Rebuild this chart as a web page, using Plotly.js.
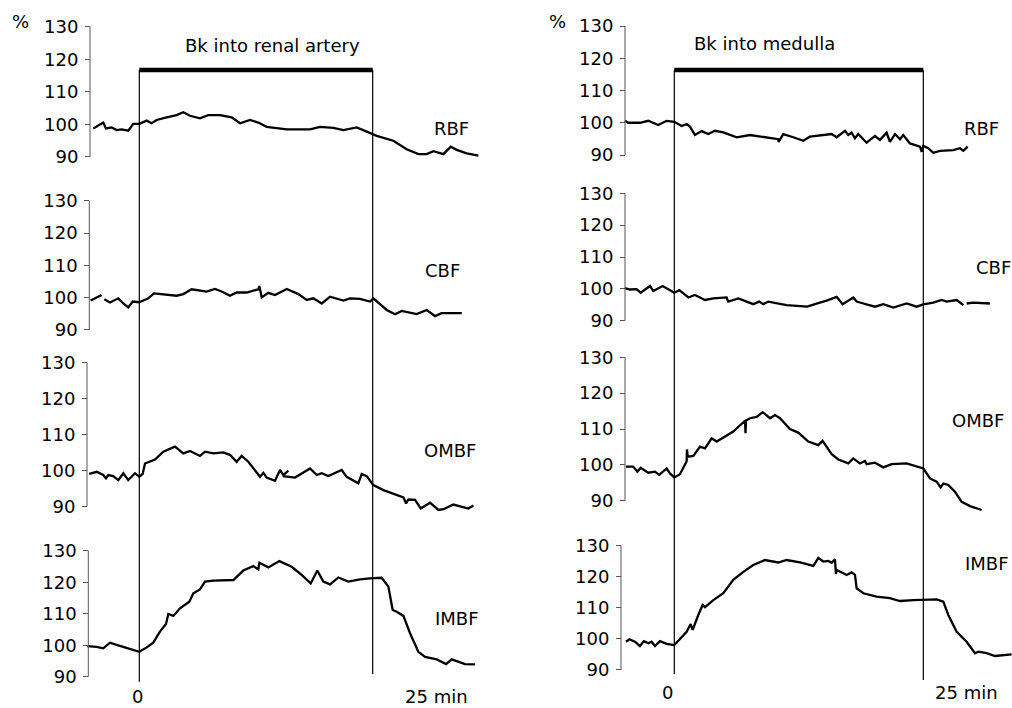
<!DOCTYPE html>
<html><head><meta charset="utf-8">
<script src="https://cdn.plot.ly/plotly-3.0.1.min.js"></script>
<style>html,body{margin:0;padding:0;background:#fff}#chart{width:1012px;height:708px}</style>
</head><body><div id="chart"></div>
<script>
// ---------------- DATA (minutes, % of baseline) ----------------
const seriesNames = ['RBF','CBF','OMBF','IMBF'];
const panelTitles = ['Bk into renal artery','Bk into medulla'];
const yTicks = [90,100,110,120,130];
const xTickVals = [0,25];
const xTickLabels = ['0','25 min'];
const yUnit = '%';
const infusionStart = 0, infusionEnd = 25;

// Left column: Bk into renal artery
const leftRBF_t = [-4.93,-4.4,-3.86,-3.57,-2.96,-2.43,-1.89,-1.18,-0.64,0,0.79,1.32,1.86,2.93,4.0,4.71,5.43,6.5,7.39,8.64,9.89,10.8,11.86,12.75,13.64,15.79,18.29,19.36,20.79,21.86,23.29,24.36,25.43,27.21,28.64,29.89,30.79,31.5,32.57,33.36,34.0,35.07,36.32];
const leftRBF_v = [98.7,99.7,100.5,98.7,99.0,98.2,98.4,98.0,100.1,100.1,101.1,100.3,101.3,102.1,102.8,103.7,102.6,101.8,102.8,102.8,102.1,100.3,101.3,100.5,99.2,98.4,98.4,99.2,98.9,98.2,99.0,97.7,96.4,94.9,92.3,90.8,90.8,91.7,90.8,93.1,92.1,91.0,90.3];

const leftCBF_t = [-5.21,-4.57,-4.04,null,-3.75,-3.14,-2.25,-1.71,-1.18,-0.71,0,0.96,1.57,2.57,4.0,4.71,5.61,7.21,8.11,8.82,9.71,10.43,11.5,12.75,12.86,13.11,13.82,14.54,15.79,17.04,17.93,18.64,19.54,20.43,21.86,22.57,23.64,24.71,25.07,26.5,27.39,28.11,29.71,30.79,31.68,32.39,34.54];
const leftCBF_v = [99.1,100.1,100.8,null,99.5,98.5,99.8,98.2,97.0,98.8,98.6,99.8,101.3,101.0,100.6,101.1,102.6,101.9,102.7,101.9,100.6,101.6,101.6,102.6,103.6,100.1,101.5,100.8,102.7,101.1,99.3,99.8,98.2,100.3,99.1,99.8,99.6,98.8,99.8,96.2,94.9,95.9,94.9,96.2,94.3,95.2,95.2];

const leftOMBF_t = [-5.36,-4.57,-3.86,-3.57,-3.32,-2.79,-2.25,-1.71,-1.18,-0.46,0,0.36,0.61,1.68,2.57,3.82,4.71,5.43,6.5,7.04,7.93,9.0,9.71,10.43,10.96,11.68,12.93,13.29,13.64,14.54,15.07,15.43,15.96,null,15.36,16.68,18.29,19.0,19.54,20.25,21.68,22.21,23.46,23.82,24.36,25.07,26.14,27.21,28.29,28.57,28.82,29.54,30.14,31.14,32.04,32.57,33.64,35.25,35.79];
const leftOMBF_v = [99.1,99.7,98.8,97.9,98.8,98.5,97.4,99.3,97.4,99.3,98.3,99.1,102.0,103.1,105.3,106.7,104.8,105.5,104.1,105.3,104.8,105.1,104.4,102.5,104.1,102.5,98.3,99.4,98.1,97.2,100.2,98.8,100.0,null,98.5,98.1,100.6,98.8,99.3,98.5,100.2,98.3,96.5,99.1,98.5,96.0,94.6,93.5,92.6,90.9,92.0,91.9,89.5,91.1,89.1,89.3,90.6,89.5,90.3];

const leftIMBF_t = [-5.57,-4.57,-3.86,-3.14,-2.43,-1.71,0,0.79,1.5,2.21,2.86,3.11,3.64,4.36,5.36,5.79,6.5,7.04,7.93,10.07,11.14,12.21,12.75,12.86,13.82,15.0,16.32,17.39,18.36,19.07,19.71,20.43,21.32,22.39,23.64,24.71,25.96,26.68,27.14,27.57,28.29,29.0,29.89,30.61,31.86,32.86,33.46,34.89,35.96];
const leftIMBF_v = [99.7,99.5,99.0,100.8,100.1,99.5,97.9,99.3,100.8,104.3,106.7,109.9,109.3,111.7,113.8,116.5,117.7,120.2,120.5,120.7,123.7,125.1,124.1,126.2,124.7,126.7,124.9,122.3,119.6,123.7,120.2,119.3,121.5,120.2,120.9,121.2,121.4,118.6,111.2,110.6,109.3,103.8,97.9,96.3,95.5,94.0,95.5,94.0,93.9];

// Right column: Bk into medulla
const rightRBF_t = [-4.95,-4.62,-3.45,-2.61,-1.61,-0.77,0,0.74,1.24,1.57,2.07,2.74,3.41,4.08,4.92,6.26,7.6,8.94,10.44,10.47,10.94,11.95,12.95,13.62,15.8,16.3,17.14,17.47,17.8,18.14,18.47,19.31,20.15,20.65,21.32,21.65,22.16,22.66,22.99,23.66,24.67,24.84,25.0,25.5,26.0,26.67,28.01,28.68,29.02,29.45];
const rightRBF_v = [100.6,100.0,100.0,100.6,99.3,100.6,100.3,99.0,99.6,98.8,96.2,97.4,96.5,97.5,97.0,95.5,96.2,95.5,94.9,94.1,96.5,95.5,94.4,95.7,96.5,95.5,97.5,96.2,96.9,95.2,96.5,93.8,95.9,94.7,96.9,94.1,96.5,94.9,96.2,93.6,92.6,91.0,92.8,92.1,90.7,91.3,91.5,92.1,91.3,92.6];

const rightCBF_t = [-4.95,-4.45,-3.78,-3.38,-2.44,-2.11,-1.17,0,0.5,1.41,2.07,3.08,3.92,5.25,5.42,6.43,7.93,8.53,8.94,9.44,11.28,13.35,14.12,15.29,16.3,16.9,17.97,18.31,18.98,20.15,20.98,21.99,23.33,24.33,25.0,26.0,26.84,27.34,28.35,29.02,null,29.35,30.02,31.69];
const rightCBF_v = [100.2,99.8,99.9,98.8,100.9,99.3,100.9,98.8,99.6,97.3,98.1,96.5,97.0,97.3,96.0,97.0,95.2,96.0,95.2,96.0,94.9,94.4,95.2,96.3,97.5,95.2,97.3,96.0,95.4,94.4,95.2,94.1,95.4,94.4,95.1,95.7,96.5,96.0,96.5,94.9,null,95.4,95.7,95.4];

const rightOMBF_t = [-4.85,-4.12,-3.71,-3.38,-2.61,-1.94,-1.51,-0.77,-0.44,0,0.57,1.07,1.24,1.27,1.35,1.91,2.58,3.08,3.75,4.25,5.92,7.1,7.15,7.2,7.6,8.27,8.87,9.61,10.11,10.61,11.61,12.45,13.45,14.46,14.89,15.8,16.47,17.47,17.97,18.64,19.14,19.31,20.15,20.98,21.82,23.33,25.0,25.67,26.34,26.74,27.01,27.51,28.18,28.85,29.69,30.86];
const rightOMBF_v = [99.5,99.5,98.1,99.2,97.8,98.1,97.2,99.0,97.6,96.5,97.4,100.4,101.0,104.3,102.3,102.5,105.1,104.6,107.4,106.5,109.3,112.3,108.8,112.4,113.0,113.4,114.7,113.0,113.9,113.0,110.0,109.0,106.5,105.5,106.7,103.0,101.5,100.4,101.8,100.4,101.1,100.2,100.6,99.3,100.2,100.4,99.0,96.2,95.3,93.7,94.8,94.4,92.5,89.7,88.5,87.4];

const rightIMBF_t = [-4.85,-4.52,-3.95,-3.45,-3.05,-2.61,-2.28,-1.94,-1.44,-0.77,0,0.5,1.24,1.64,1.84,2.41,2.84,3.08,3.92,4.92,5.92,6.93,7.93,9.1,10.44,11.28,12.62,13.96,14.46,14.96,15.46,15.8,16.13,16.23,16.3,17.3,17.8,18.14,18.31,18.98,20.31,21.65,22.66,24.0,26.34,27.01,27.51,28.35,29.35,30.19,30.52,31.36,32.2,33.87];
const rightIMBF_v = [99.1,99.9,99.1,97.7,99.3,98.6,99.1,97.7,99.3,98.4,98.0,99.6,102.3,104.8,102.9,107.7,110.9,110.2,112.5,114.7,119.0,121.6,123.8,125.4,124.6,125.4,124.6,123.5,126.1,124.9,125.1,124.5,125.6,120.9,122.2,120.6,121.4,120.6,116.3,114.7,113.6,113.1,112.2,112.5,112.7,112.0,107.7,102.3,99.1,95.4,95.9,95.4,94.5,95.0];

// ---------------- LAYOUT (pixel geometry) ----------------
const W = 1012, H = 708;
const FONT = {family: 'DejaVu Sans, Liberation Sans, Arial, sans-serif', size: 18, color: '#000'};
const PX = v => v / W, PY = v => 1 - v / H;
const Y_RANGE = [84, 132];

const cols = [
  {x0px: 139.3, ppm: 9.336, range: [-6, 37], axisX: [90, 89.3, 87, 88.3],
   t130: [26.7, 200.7, 362.7, 550.7], t90: [156.7, 330, 506.7, 676.7],
   series: [[leftRBF_t,leftRBF_v],[leftCBF_t,leftCBF_v],[leftOMBF_t,leftOMBF_v],[leftIMBF_t,leftIMBF_v]],
   vlineBottom: [681.7, 674], barY: 70,
   labelPos: [[451,128],[442,270],[450,450],[457,618]],
   pctPos: [20, 21], titlePos: [183, 45], xlabPos: [[137,696],[436,696]]},
  {x0px: 674.3, ppm: 9.96, range: [-6, 33.9], axisX: [625, 625, 625, 621],
   t130: [26, 193.3, 357.3, 545.7], t90: [155, 320.7, 500.7, 670],
   series: [[rightRBF_t,rightRBF_v],[rightCBF_t,rightCBF_v],[rightOMBF_t,rightOMBF_v],[rightIMBF_t,rightIMBF_v]],
   vlineBottom: [674, 680], barY: 70,
   labelPos: [[981,128],[993,268],[978,420],[987,563]],
   pctPos: [557, 22], titlePos: [692, 43], xlabPos: [[667,692],[966,692]]}
];

const traces = [], shapes = [], annotations = [];
const layout = {
  width: W, height: H, margin: {l:0, r:0, t:0, b:0},
  paper_bgcolor: '#fff', plot_bgcolor: 'rgba(0,0,0,0)',
  showlegend: false, font: FONT
};

cols.forEach((c, ci) => {
  const xName = ci === 0 ? 'x' : 'x2';
  const xKey = ci === 0 ? 'xaxis' : 'xaxis2';
  layout[xKey] = {
    domain: [PX(c.x0px + c.range[0]*c.ppm), Math.min(1, PX(c.x0px + c.range[1]*c.ppm))],
    range: c.range, visible: false, fixedrange: true,
    anchor: ci === 0 ? 'y' : 'y5'
  };
  c.series.forEach((s, si) => {
    const n = ci*4 + si + 1;
    const yName = n === 1 ? 'y' : 'y' + n;
    const yKey = n === 1 ? 'yaxis' : 'yaxis' + n;
    const k = (c.t90[si] - c.t130[si]) / 40;
    const botPx = c.t90[si] + (90 - Y_RANGE[0]) * k;
    const topPx = c.t130[si] - (Y_RANGE[1] - 130) * k;
    layout[yKey] = {
      domain: [PY(botPx), PY(topPx)], range: Y_RANGE,
      anchor: 'free', position: PX(c.axisX[si]), side: 'left',
      tickvals: yTicks, ticktext: yTicks.map(String),
      ticks: 'outside', ticklen: 5, tickwidth: 1, tickcolor: '#555',
      ticklabelstandoff: 3,
      showline: false, showgrid: false, zeroline: false,
      tickfont: FONT, fixedrange: true
    };
    traces.push({
      type: 'scatter', mode: 'lines', x: s[0], y: s[1],
      xaxis: xName, yaxis: yName, connectgaps: false,
      line: {color: '#000', width: 2.3}, hoverinfo: 'skip'
    });
    shapes.push({type: 'line', xref: 'paper', yref: yName,
      x0: PX(c.axisX[si]), x1: PX(c.axisX[si]), y0: yTicks[0], y1: yTicks[yTicks.length-1],
      line: {color: '#555', width: 1}});
    annotations.push({xref: 'paper', yref: 'paper', x: PX(c.labelPos[si][0]), y: PY(c.labelPos[si][1]),
      text: seriesNames[si], showarrow: false, xanchor: 'center', yanchor: 'middle', font: FONT});
  });
  [infusionStart, infusionEnd].forEach((xv, i) => {
    shapes.push({type: 'line', xref: xName, yref: 'paper', x0: xv, x1: xv,
      y0: PY(c.vlineBottom[i]), y1: PY(c.barY), line: {color: '#000', width: 1.2}});
  });
  shapes.push({type: 'line', xref: xName, yref: 'paper', x0: infusionStart, x1: infusionEnd,
    y0: PY(c.barY), y1: PY(c.barY), line: {color: '#000', width: 4.5}});
  annotations.push({xref: 'paper', yref: 'paper', x: PX(c.titlePos[0]), y: PY(c.titlePos[1]),
    text: panelTitles[ci], showarrow: false, xanchor: 'left', yanchor: 'middle', font: FONT});
  annotations.push({xref: 'paper', yref: 'paper', x: PX(c.pctPos[0]), y: PY(c.pctPos[1]),
    text: yUnit, showarrow: false, xanchor: 'center', yanchor: 'middle', font: FONT});
  xTickVals.forEach((v, i) => {
    annotations.push({xref: 'paper', yref: 'paper', x: PX(c.xlabPos[i][0]), y: PY(c.xlabPos[i][1]),
      text: xTickLabels[i], showarrow: false, xanchor: 'center', yanchor: 'middle', font: FONT});
  });
});

layout.shapes = shapes;
layout.annotations = annotations;
Plotly.newPlot('chart', traces, layout, {displayModeBar: false, staticPlot: true});
</script></body></html>
